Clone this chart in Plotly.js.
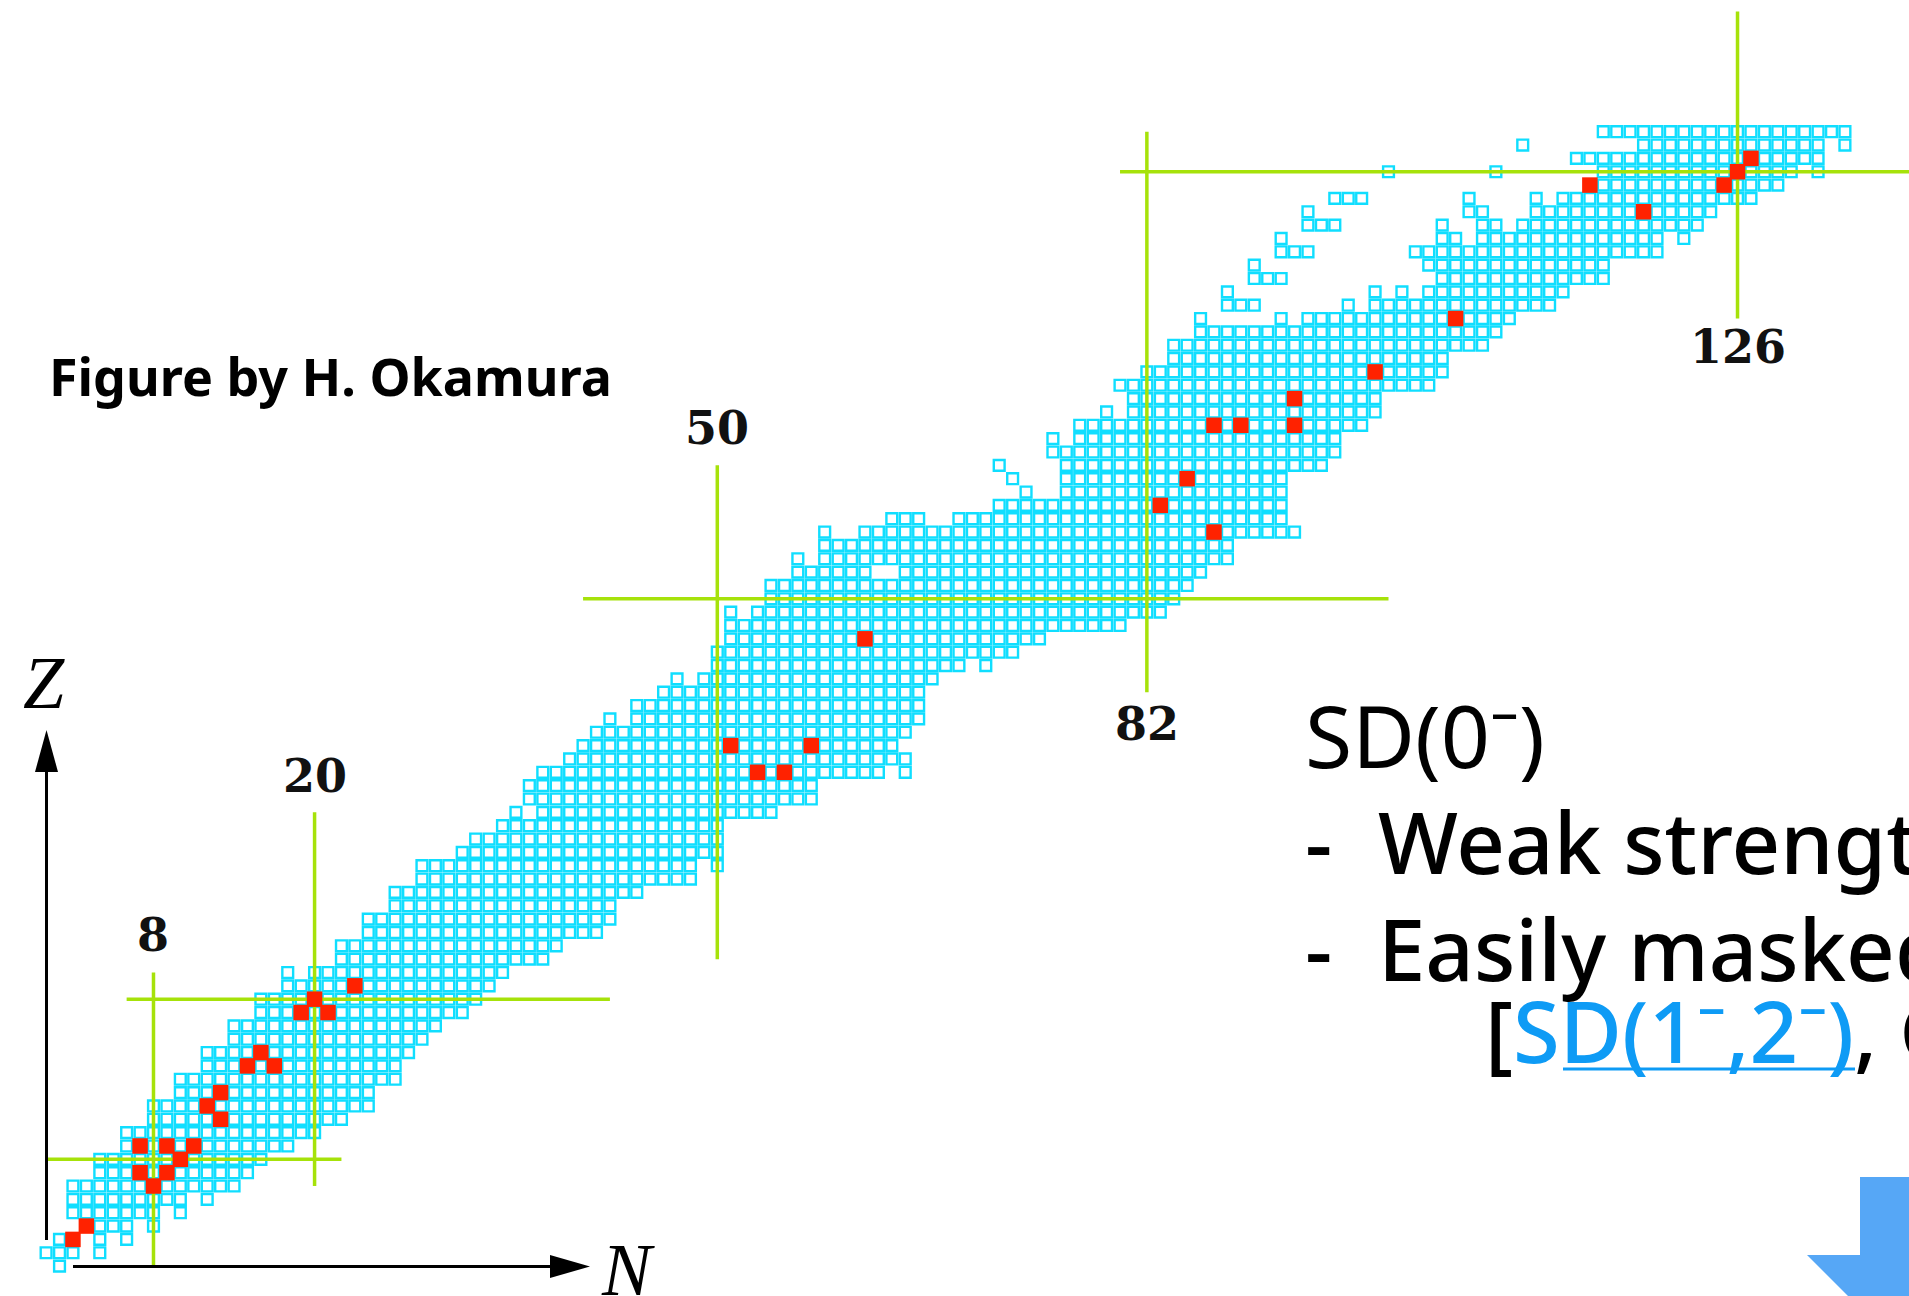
<!DOCTYPE html>
<html>
<head>
<meta charset="utf-8">
<script src="https://cdn.plot.ly/plotly-3.0.1.min.js"></script>
<style>
html,body{margin:0;padding:0;background:#ffffff;overflow:hidden}
#chart{width:1909px;height:1296px}
</style>
</head>
<body>
<div id="chart"></div>
<script>
// ---------------- DATA ----------------
// Known nuclides: for each Z (array index), ranges of N [from, to]
const nRanges = [
 [[1,1]],
 [[0,2],[4,4]],
 [[1,2],[4,4],[6,6]],
 [[3,6],[8,8]],
 [[2,8],[10,10]],
 [[2,10],[12,12]],
 [[2,14]],
 [[4,15]],
 [[4,16]],
 [[6,18]],
 [[6,20]],
 [[8,22]],
 [[8,24]],
 [[10,24]],
 [[10,26]],
 [[12,26]],
 [[12,27]],
 [[14,28]],
 [[14,29]],
 [[16,31]],
 [[16,32]],
 [[18,33]],
 [[18,18],[20,34]],
 [[22,37]],
 [[22,38]],
 [[24,41]],
 [[24,42]],
 [[26,42]],
 [[26,44]],
 [[28,48]],
 [[28,48],[50,50]],
 [[31,50]],
 [[32,50]],
 [[34,50]],
 [[35,35],[37,54]],
 [[36,57]],
 [[36,57]],
 [[37,62],[64,64]],
 [[39,64]],
 [[40,63]],
 [[41,64]],
 [[42,42],[44,65]],
 [[44,65]],
 [[46,65]],
 [[47,47],[49,66]],
 [[50,68],[70,70]],
 [[50,72]],
 [[51,74]],
 [[51,80]],
 [[51,51],[53,83]],
 [[54,84]],
 [[54,85]],
 [[56,61],[64,86]],
 [[56,56],[58,88]],
 [[58,88]],
 [[58,58],[61,93]],
 [[63,65],[68,92]],
 [[71,92]],
 [[73,73],[76,92]],
 [[72,72],[76,92]],
 [[71,71],[76,95]],
 [[75,96]],
 [[75,75],[77,96]],
 [[77,98]],
 [[79,79],[81,99]],
 [[81,99]],
 [[80,103]],
 [[82,104]],
 [[84,104]],
 [[84,107]],
 [[86,108]],
 [[86,86],[92,92],[94,109]],
 [[88,90],[97,97],[99,112]],
 [[88,88],[99,99],[101,101],[103,113]],
 [[90,92],[104,116]],
 [[90,90],[103,116]],
 [[92,94],[102,120]],
 [[92,92],[104,105],[107,120],[122,122]],
 [[94,96],[104,104],[107,108],[110,123]],
 [[94,94],[106,107],[111,124]],
 [[96,98],[106,106],[111,111],[113,127]],
 [[115,129]],
 [[100,100],[108,108],[116,130],[132,132]],
 [[114,132]],
 [[110,110],[119,132],[134,134]],
 [[116,134]]
];

// Highlighted (red) nuclei
const redN = [2,3,7,9,11,10,7,9,8,12,13,13,15,16,17,19,20,21,23,51,53,55,57,61,83,85,87,87,89,93,93,99,105,115,119,125,126,127];
const redZ = [2,3,9,9,9,8,7,7,6,12,13,11,15,16,15,19,20,19,21,39,37,37,39,47,57,59,55,63,63,63,65,67,71,81,79,81,82,83];

// Magic-number lines
const magicN   = [8, 20, 50, 82, 126];
const vLineZlo = [0, 6, 23, 43, 71];
const vLineZhi = [22, 34, 60, 85, 94];
const magicZ   = [8, 20, 50, 82];
const hLineNlo = [0, 6, 40, 80];
const hLineNhi = [22, 42, 100, 140];

// Magic-number labels
const magicLabels = ['8', '20', '50', '82', '126'];
const labelZ      = [24.8, 36.75, 62.8, 40.6, 68.9];

// ---------------- BUILD ----------------
const W = 1909, H = 1296;
const X0 = 46.1, DX = 13.424, Y0 = 1266.1, DY = 13.346;

const cellN = [], cellZ = [];
nRanges.forEach((ranges, z) => {
  ranges.forEach(r => { for (let n = r[0]; n <= r[1]; n++) { cellN.push(n); cellZ.push(z); } });
});

const lineX = [], lineY = [];
magicN.forEach((n, i) => { lineX.push(n, n, null); lineY.push(vLineZlo[i], vLineZhi[i], null); });
magicZ.forEach((z, i) => { lineX.push(hLineNlo[i], hLineNhi[i], null); lineY.push(z, z, null); });

const traces = [
  {type:'scatter', mode:'markers', x:cellN, y:cellZ, hoverinfo:'skip',
   marker:{symbol:'square-open', size:10.8, color:'#10DEFF', line:{width:2.4, color:'#10DEFF'}}},
  {type:'scatter', mode:'lines', x:lineX, y:lineY, hoverinfo:'skip', connectgaps:false,
   line:{color:'#A6E20A', width:3.5}},
  {type:'scatter', mode:'markers', x:redN, y:redZ, hoverinfo:'skip',
   marker:{symbol:'square', size:15.5, color:'#FF2200', line:{width:0}}}
];

const px = x => x / W;
const py = y => 1 - y / H;

const annotations = [];
magicLabels.forEach((t, i) => {
  annotations.push({xref:'x', yref:'y', x:magicN[i], y:labelZ[i], text:t, showarrow:false,
    xanchor:'center', yanchor:'middle', font:{family:'DejaVu Serif', size:46, color:'#111111', weight:700}});
});

function txt(text, x, baseline, size, opts) {
  opts = opts || {};
  annotations.push(Object.assign({xref:'paper', yref:'paper', x:px(x), y:py(baseline - 0.36*size),
    text:text, showarrow:false, xanchor:'left', yanchor:'middle', align:'left',
    font:{family:'Noto Sans', size:size, color:'#000000', weight: opts.weight || 400}}, opts.extra || {}));
}

txt('Figure by H. Okamura', 47, 394, 52, {weight:700});
txt('SD(0⁻)', 1303, 765, 86, {weight:400});
txt('-', 1303, 872, 85, {weight:500});
txt('Weak strength', 1376, 872, 85, {weight:500});
txt('-', 1303, 979, 85, {weight:500});
txt('Easily masked', 1376, 979, 85, {weight:500});
txt('[<span style="color:#0E9BF5">SD(1⁻,2⁻)</span>, GT(1⁺)]', 1483, 1061, 85, {weight:500});

annotations.push({xref:'paper', yref:'paper', x:px(44), y:py(683), text:'<i>Z</i>', showarrow:false,
  xanchor:'center', yanchor:'middle', font:{family:'Liberation Serif', size:74, color:'#000000'}});
annotations.push({xref:'paper', yref:'paper', x:px(628), y:py(1270), text:'<i>N</i>', showarrow:false,
  xanchor:'center', yanchor:'middle', font:{family:'Liberation Serif', size:74, color:'#000000'}});

function pathPx(pts) {
  return 'M ' + pts.map(p => px(p[0]) + ' ' + py(p[1])).join(' L ') + ' Z';
}

const shapes = [
  // Z axis arrow
  {type:'line', xref:'paper', yref:'paper', x0:px(46.5), x1:px(46.5), y0:py(1240), y1:py(768), line:{color:'#000', width:3}},
  {type:'path', xref:'paper', yref:'paper', path:pathPx([[46.5,730],[35,772],[58,772]]), fillcolor:'#000', line:{width:0}},
  // N axis arrow
  {type:'line', xref:'paper', yref:'paper', x0:px(73), x1:px(553), y0:py(1266.5), y1:py(1266.5), line:{color:'#000', width:3}},
  {type:'path', xref:'paper', yref:'paper', path:pathPx([[590,1266.5],[550,1255],[550,1278]]), fillcolor:'#000', line:{width:0}},
  // underline of link
  {type:'line', xref:'paper', yref:'paper', x0:px(1563), x1:px(1855), y0:py(1069), y1:py(1069), line:{color:'#0E9BF5', width:3}},
  // blue down arrow (bottom right)
  {type:'path', xref:'paper', yref:'paper',
   path:pathPx([[1860,1177],[1950,1177],[1950,1255],[2003,1255],[1905,1353],[1807,1255],[1860,1255]]),
   fillcolor:'#56A7F6', line:{width:0}}
];

const layout = {
  width:W, height:H,
  margin:{l:0, r:0, t:0, b:0, pad:0},
  paper_bgcolor:'#ffffff', plot_bgcolor:'#ffffff',
  showlegend:false,
  xaxis:{range:[-X0/DX, (W - X0)/DX], visible:false, showgrid:false, zeroline:false, fixedrange:true},
  yaxis:{range:[(Y0 - H)/DY, Y0/DY], visible:false, showgrid:false, zeroline:false, fixedrange:true},
  annotations:annotations,
  shapes:shapes
};

Plotly.newPlot('chart', traces, layout, {displayModeBar:false, staticPlot:true});
</script>
</body>
</html>
